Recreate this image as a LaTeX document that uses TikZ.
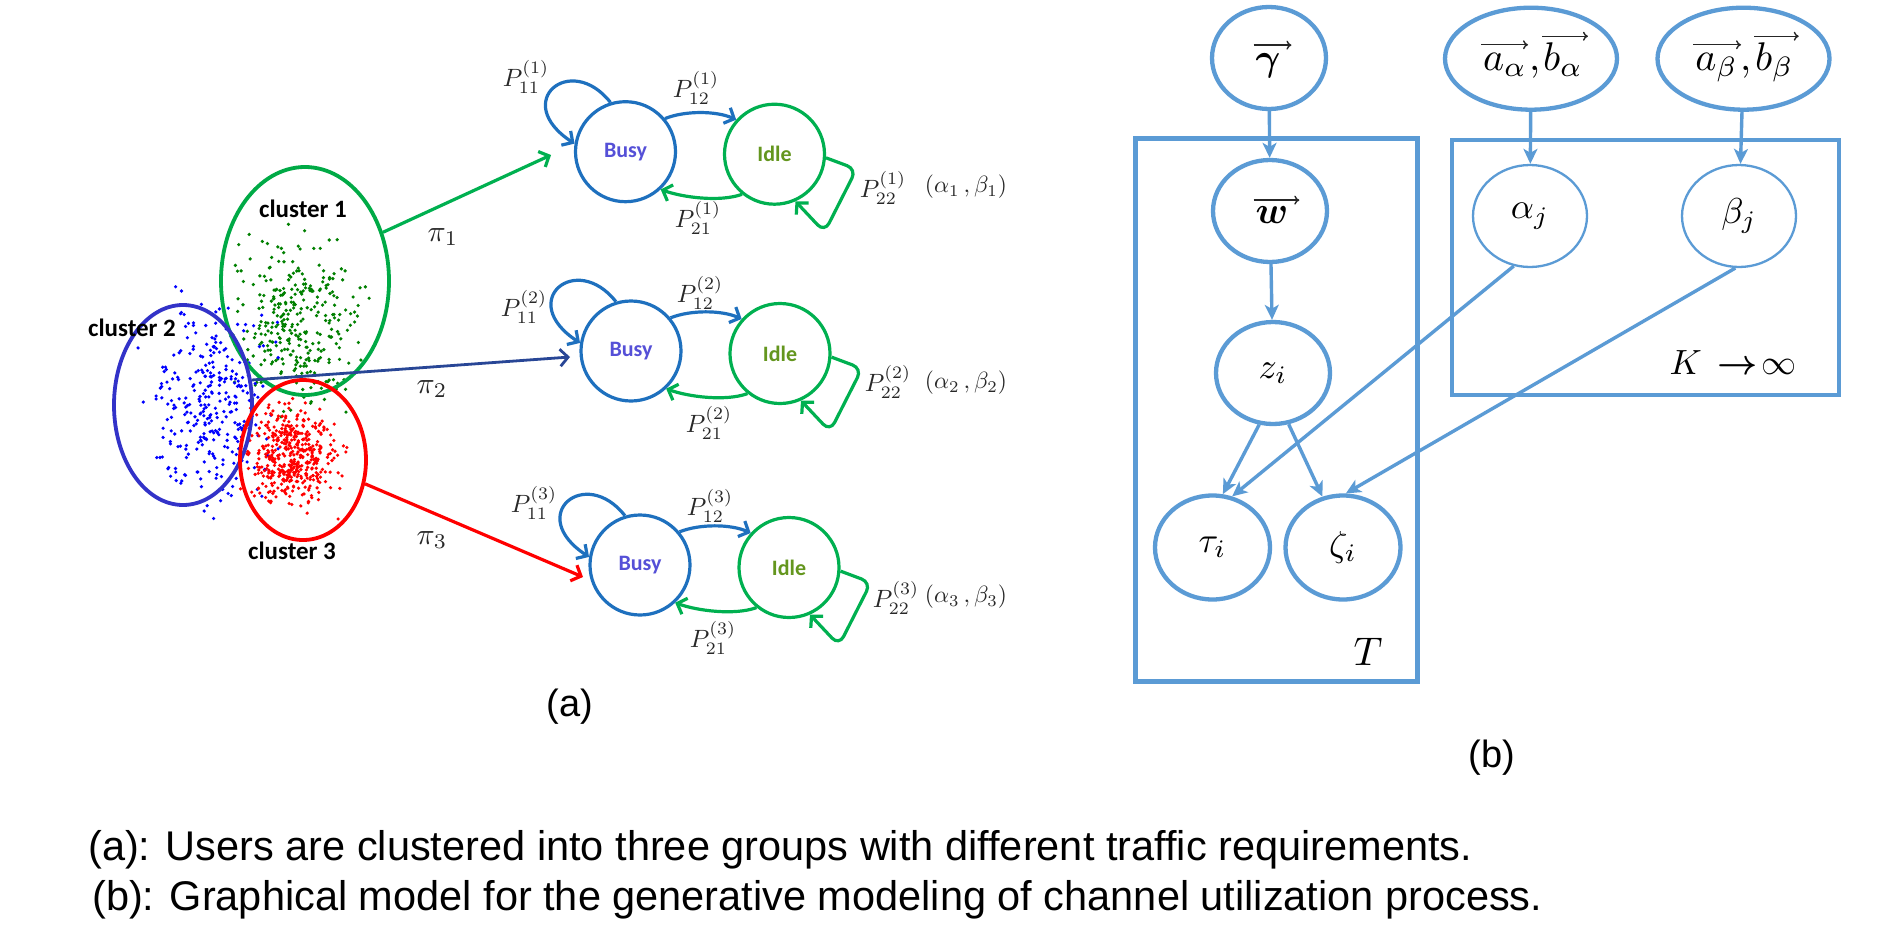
\documentclass[tikz,border=0pt]{standalone}
\usepackage{amsmath,bm}
\usepackage{graphicx}
\usepackage{fontspec}
\newfontfamily\calib{Carlito}
\newfontfamily\arial{Liberation Sans}
\usetikzlibrary{arrows.meta,shapes.geometric,calc}
\newcommand{\Msc}[2]{\scalebox{#1}{$#2$}}
\definecolor{pgmblue}{RGB}{91,155,213}
\definecolor{smblue}{RGB}{30,112,190}
\definecolor{smgreen}{RGB}{0,176,80}
\definecolor{clgreen}{RGB}{0,170,70}
\definecolor{dotgreen}{RGB}{0,128,0}
\definecolor{clblue}{RGB}{50,50,200}
\definecolor{navyarr}{RGB}{40,70,150}
\definecolor{busytxt}{RGB}{85,80,215}
\definecolor{idletxt}{RGB}{100,150,30}
\definecolor{lbl}{RGB}{40,40,40}
\tikzset{
  smnode/.style={circle, minimum size=100pt, inner sep=0pt, line width=3.2pt,
    font=\calib\bfseries\fontsize{22}{26}\selectfont},
  busy/.style={smnode, draw=smblue, text=busytxt},
  idle/.style={smnode, draw=smgreen, text=idletxt},
  smarr/.style={line width=3.2pt, -{Straight Barb[length=8pt,width=17pt]}},
  cl/.style={ellipse, inner sep=0pt, line width=3.8pt},
  cllabel/.style={font=\calib\bfseries\fontsize{25}{30}\selectfont, text=black},
  mlabel/.style={text=lbl},
  pgm/.style={ellipse, draw=pgmblue, line width=4.3pt, inner sep=0pt,
    minimum width=114pt, minimum height=102pt},
  pgmthin/.style={pgm, line width=2.3pt},
  vtxt/.style={inner sep=0pt, outer sep=0pt},
  vecarr/.style={line width=1.4pt, draw=black!85, -{To[length=5pt,width=9pt]}},
  plate/.style={draw=pgmblue, line width=4.6pt},
  pgmarr/.style={draw=pgmblue, line width=3.4pt, -{Stealth[length=15pt,width=14pt,inset=4pt]}},
  caption/.style={anchor=base west, inner sep=0pt, font=\arial\fontsize{41.5}{48}\selectfont},
  sublabel/.style={font=\arial\fontsize{38}{44}\selectfont}
}
\begin{document}
\begin{tikzpicture}[x=1pt,y=-1pt]
\useasboundingbox (0,0) rectangle (1893,940);
\fill[white] (0,0) rectangle (1893,940);

% ---------- scattered users ----------
\pgfmathsetseed{7}
\foreach \i in {1,...,320}{
  \pgfmathsetmacro\dx{30*(rand+rand+rand)}
  \pgfmathsetmacro\dy{40*(rand+rand+rand)}
  \fill[dotgreen] (298+\dx,318+\dy) circle (1.8pt);
}
\foreach \i in {1,...,320}{
  \pgfmathsetmacro\dx{28*(rand+rand+rand)}
  \pgfmathsetmacro\dy{45*(rand+rand+rand)}
  \fill[blue] (214+\dx,405+\dy) circle (1.8pt);
}
\foreach \i in {1,...,450}{
  \pgfmathsetmacro\dx{21*(rand+rand+rand)}
  \pgfmathsetmacro\dy{23*(rand+rand+rand)}
  \fill[red] (292+\dx,456+\dy) circle (1.8pt);
}

% ---------- cluster ellipses ----------
\node[cl, draw=clgreen, minimum width=168pt, minimum height=228pt] (C1) at (305,281) {};
\node[cl, draw=clblue, minimum width=138pt, minimum height=200pt] (C2) at (183,405) {};
\node[cl, draw=red, minimum width=126pt, minimum height=160pt] (C3) at (303,460) {};
\node[cllabel] (L1) at (303,209) {cluster 1};
\node[cllabel] (L2) at (132,328) {cluster 2};
\node[cllabel] (L3) at (292,551) {cluster 3};

% ---------- state machines ----------
\foreach \n/\bx/\by in {1/625.5/151.7, 2/631/351, 3/640/565}{
  \node[busy] (B\n) at (\bx,\by) {Busy};
  \node[idle] (I\n) at ($(\bx,\by)+(149,2.5)$) {Idle};
}
\foreach \n in {1,2,3}{
  \draw[smarr, smblue] (B\n.40) .. controls ($(B\n.40)+(20,-8)$) and ($(I\n.138)+(-20,-9)$) .. (I\n.138);
  \draw[smarr, smgreen] (I\n.-129) .. controls ($(I\n.-129)+(-22,8)$) and ($(B\n.-47)+(22,8)$) .. (B\n.-47);
  \draw[smarr, smblue] (B\n.107) .. controls ($(B\n)+(-55,-100)$) and ($(B\n)+(-115,-50)$) .. (B\n.171);
  \draw[smarr, smgreen, rounded corners=10pt] (I\n.-4) -- ($(I\n)+(82,15)$) -- ($(I\n)+(50,78)$) -- (I\n.-66);
}

% labels of state machine 1
\node[mlabel] (p111) at (526,77) {\Msc{2.5}{P_{11}^{(1)}}};
\node[mlabel] (p121) at (696,88) {\Msc{2.5}{P_{12}^{(1)}}};
\node[mlabel] (p211) at (698,218) {\Msc{2.5}{P_{21}^{(1)}}};
\node[mlabel] (p221) at (883,188) {\Msc{2.5}{P_{22}^{(1)}}};
\node[mlabel] (ab1) at (966,187) {\Msc{2.35}{(\alpha_1\,,\beta_1)}};
% labels of state machine 2
\node[mlabel] (p112) at (524,307) {\Msc{2.5}{P_{11}^{(2)}}};
\node[mlabel] (p122) at (700,293) {\Msc{2.5}{P_{12}^{(2)}}};
\node[mlabel] (p212) at (709,423) {\Msc{2.5}{P_{21}^{(2)}}};
\node[mlabel] (p222) at (888,382) {\Msc{2.5}{P_{22}^{(2)}}};
\node[mlabel] (ab2) at (966,383) {\Msc{2.35}{(\alpha_2\,,\beta_2)}};
% labels of state machine 3
\node[mlabel] (p113) at (534,503) {\Msc{2.5}{P_{11}^{(3)}}};
\node[mlabel] (p123) at (710,506) {\Msc{2.5}{P_{12}^{(3)}}};
\node[mlabel] (p213) at (713,638) {\Msc{2.5}{P_{21}^{(3)}}};
\node[mlabel] (p223) at (896,598) {\Msc{2.5}{P_{22}^{(3)}}};
\node[mlabel] (ab3) at (966,597) {\Msc{2.35}{(\alpha_3\,,\beta_3)}};

% ---------- cluster -> state machine arrows ----------
\coordinate (t1) at (551,155);
\coordinate (t2) at (570,357);
\coordinate (t3) at (583,577);
\draw[smarr, smgreen] (C1.32) -- (t1);
\draw[smarr, navyarr, line width=2.8pt] (C2.20) -- (t2);
\draw[smarr, red] (C3.-21) -- (t3);
\node[mlabel] (pi1) at (443,237) {\Msc{3}{\pi_1}};
\node[mlabel] (pi2) at (432,389) {\Msc{3}{\pi_2}};
\node[mlabel] (pi3) at (432,540) {\Msc{3}{\pi_3}};

\node[sublabel] (suba) at (570,707) {(a)};

% ---------- graphical model (b) ----------
\draw[plate] (1135.5,138.3) rectangle (1417.5,681.7);
\draw[plate] (1452,140) rectangle (1839,395);
\node[pgm] (gam) at (1269,58) {};
\node[pgm, minimum width=172pt] (aa) at (1531,58.7) {};
\node[pgm, minimum width=172pt] (ab) at (1743.5,58.7) {};
\node[pgm] (w) at (1270,211) {};
\node[pgm] (z) at (1273,373) {\Msc{3.6}{z_i}};
\node[pgm, minimum width=115pt, minimum height=104pt] (tau) at (1212.5,547.5) {\Msc{3.6}{\tau_i}};
\node[pgm, minimum width=115pt, minimum height=104pt] (zeta) at (1343,547.5) {\Msc{3.6}{\zeta_i}};
\node[pgmthin] (alj) at (1530,216) {\Msc{3.6}{\alpha_j}};
\node[pgmthin] (bej) at (1739,216) {\Msc{3.6}{\beta_j}};
\node (Tlab) at (1368,652) {\Msc{4}{T}};
\node (Klab) at (1733,363) {\Msc{3.5}{K\,\boldsymbol{\rightarrow}\!\infty}};

% vector labels with drawn over-arrows
\node[vtxt, anchor=base] (gamtxt) at (1268,70) {\Msc{3.8}{\bm{\gamma}}};
\node[vtxt, anchor=base] (wtxt) at (1272,223) {\Msc{3.8}{\bm{w}}};
\node[vtxt, anchor=base east] (aa1) at (1527,70) {\Msc{4}{a_\alpha}};
\node[vtxt, anchor=base west] (aa2) at (1529,70) {\Msc{4}{,}};
\node[vtxt, anchor=base west] (aa3) at (1543,70) {\Msc{4}{b_\alpha}};
\node[vtxt, anchor=base east] (ab1) at (1738,70) {\Msc{4}{a_\beta}};
\node[vtxt, anchor=base west] (ab2) at (1740,70) {\Msc{4}{,}};
\node[vtxt, anchor=base west] (ab3) at (1755,70) {\Msc{4}{b_\beta}};
\draw[vecarr] ([xshift=-2pt,yshift=8pt]gamtxt.north west) -- ([xshift=11pt,yshift=8pt]gamtxt.north east);
\draw[vecarr] ([xshift=-2pt,yshift=6pt]wtxt.north west) -- ([xshift=11pt,yshift=6pt]wtxt.north east);
\draw[vecarr] ([xshift=-2pt,yshift=8pt]aa1.north west) -- ([xshift=1pt,yshift=8pt]aa1.north east);
\draw[vecarr] ([xshift=-1pt,yshift=6pt]aa3.north west) -- ([xshift=5pt,yshift=6pt]aa3.north east);
\draw[vecarr] ([xshift=-2pt,yshift=8pt]ab1.north west) -- ([xshift=3pt,yshift=8pt]ab1.north east);
\draw[vecarr] ([xshift=-1pt,yshift=6pt]ab3.north west) -- ([xshift=5pt,yshift=6pt]ab3.north east);

\draw[pgmarr] (gam) -- (w);
\draw[pgmarr] (w) -- (z);
\draw[pgmarr] (aa) -- (alj);
\draw[pgmarr] (ab) -- (bej);
\draw[pgmarr] (z.-105) -- (tau.79);
\draw[pgmarr] (z.-73) -- (zeta.112);
\draw[pgmarr] (alj.-108) -- (tau.69);
\draw[pgmarr] (bej.-94) -- (zeta.87);

\node[sublabel] (subb) at (1492,758) {(b)};

% ---------- captions ----------
\node[caption] (cap1) at (88,860) {(a): Users are clustered into three groups with different traffic requirements.};
\node[caption] (cap2) at (92,910) {(b): Graphical model for the generative modeling of channel utilization process.};
\end{tikzpicture}
\end{document}
